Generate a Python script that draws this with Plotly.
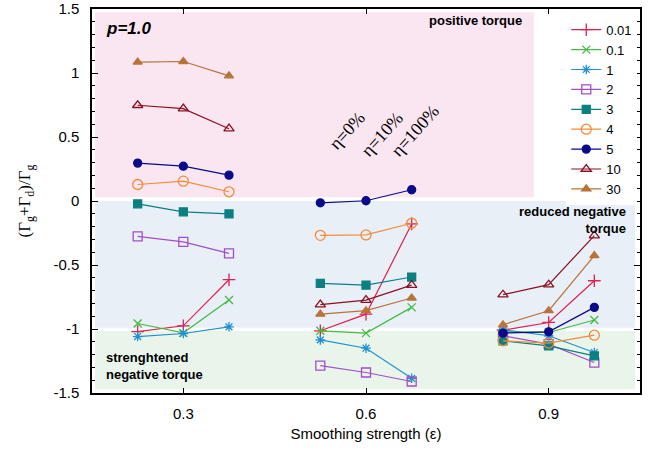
import plotly.graph_objects as go

# eta offsets within each epsilon group: eta=0%, 10%, 100%
eps_groups = [0.3, 0.6, 0.9]
eta_offsets = [-0.075, 0.0, 0.075]

series_names = ["0.01", "0.1", "1", "2", "3", "4", "5", "10", "30"]

# values per series: [group 0.3 (3 pts), group 0.6 (3 pts), group 0.9 (3 pts)]
v_001 = [[-1.02, -0.975, -0.615], [-1.014, -0.884, -0.179], [-1.009, -0.949, -0.623]]
v_01 = [[-0.957, -1.03, -0.774], [-1.014, -1.032, -0.831], [-1.022, -1.027, -0.930]]
v_1 = [[-1.059, -1.035, -0.983], [-1.085, -1.15, -1.385], [-1.006, -1.053, -1.184]]
v_2 = [[-0.276, -0.32, -0.409], [-1.286, -1.34, -1.41], [-1.053, -1.118, -1.262]]
v_3 = [[-0.022, -0.085, -0.100], [-0.644, -0.657, -0.594], [-1.092, -1.132, -1.21]]
v_4 = [[0.129, 0.155, 0.072], [-0.268, -0.265, -0.174], [-1.092, -1.11, -1.048]]
v_5 = [[0.296, 0.272, 0.202], [-0.014, 0.002, 0.088], [-1.032, -1.022, -0.831]]
v_10 = [[0.748, 0.722, 0.565], [-0.81, -0.774, -0.657], [-0.732, -0.654, -0.27]]
v_30 = [[1.085, 1.09, 0.978], [-0.884, -0.857, -0.758], [-0.967, -0.857, -0.427]]

all_values = [v_001, v_01, v_1, v_2, v_3, v_4, v_5, v_10, v_30]

colors = ["#dc2050", "#44bb44", "#2090d0", "#a24ec8", "#0a8080",
          "#f28c3c", "#0a0a8a", "#8b1020", "#b8733a"]
symbols = ["cross-thin", "x-thin", "asterisk", "square-open", "square",
           "circle-open", "circle", "triangle-up-open", "triangle-up"]
sizes = [9, 8, 8, 9, 8, 10, 8, 9, 8]

eta_labels = ["η=0%", "η=10%", "η=100%"]

fig = go.Figure()

# background regions
fig.add_shape(type="rect", xref="x", yref="y", x0=0.155, x1=0.876, y0=0.03, y1=1.475,
              fillcolor="#fae6f0", line=dict(width=0), layer="below")
fig.add_shape(type="rect", xref="x", yref="y", x0=0.155, x1=1.042, y0=-0.99, y1=0.0,
              fillcolor="#e8eff7", line=dict(width=0), layer="below")
fig.add_shape(type="rect", xref="x", yref="y", x0=0.155, x1=1.042, y0=-1.47, y1=-1.015,
              fillcolor="#e9f5ea", line=dict(width=0), layer="below")

for name, vals, col, sym, sz in zip(series_names, all_values, colors, symbols, sizes):
    for gi, (eps, gvals) in enumerate(zip(eps_groups, vals)):
        xs = [eps + o for o in eta_offsets]
        fig.add_trace(go.Scatter(
            x=xs, y=gvals, mode="lines+markers", name=name,
            legendgroup=name, showlegend=(gi == 0),
            line=dict(color=col, width=1.2),
            marker=dict(symbol=sym, size=sz, color=col,
                        line=dict(color=col, width=1.3)),
        ))

# annotations
fig.add_annotation(x=0.1698, y=1.351, xref="x", yref="y", text="<b><i>p=1.0</i></b>",
                   showarrow=False, xanchor="left", yanchor="middle",
                   font=dict(family="Liberation Sans", size=17, color="black"))
fig.add_annotation(x=0.86, y=1.413, xref="x", yref="y", text="<b>positive torque</b>",
                   showarrow=False, xanchor="right", yanchor="middle",
                   font=dict(family="Liberation Sans", size=13, color="black"))
fig.add_annotation(x=1.030, y=-0.145, xref="x", yref="y",
                   text="<b>reduced negative</b><br><b>torque</b>",
                   showarrow=False, xanchor="right", yanchor="middle", align="right",
                   font=dict(family="Liberation Sans", size=13, color="black"))
fig.add_annotation(x=0.1698, y=-1.286, xref="x", yref="y",
                   text="<b>strenghtened</b><br><b>negative torque</b>",
                   showarrow=False, xanchor="left", yanchor="middle", align="left",
                   font=dict(family="Liberation Sans", size=13, color="black"))
eta_pos = [(0.568, 0.55), (0.627, 0.52), (0.68, 0.55)]
for lab, (ex, ey) in zip(eta_labels, eta_pos):
    fig.add_annotation(x=ex, y=ey, xref="x", yref="y", text=lab, showarrow=False,
                       textangle=-48,
                       font=dict(family="Liberation Serif", size=18, color="black"))

axis_common = dict(showline=True, linecolor="black", linewidth=1.5, mirror="allticks",
                   ticks="inside", tickcolor="black", showgrid=False, zeroline=False,
                   automargin=False, ticklabeloverflow="allow",
                   tickfont=dict(family="Liberation Sans", size=15, color="black"))

fig.update_xaxes(range=[0.15, 1.05], tickvals=eps_groups, ticktext=["0.3", "0.6", "0.9"],
                 ticklen=5, ticklabelstandoff=6,
                 title=dict(text="Smoothing strength (ε)", standoff=8,
                            font=dict(family="Liberation Sans", size=15, color="black")),
                 **axis_common)
fig.update_yaxes(range=[-1.5, 1.5], tickvals=[-1.5, -1, -0.5, 0, 0.5, 1, 1.5],
                 ticktext=["-1.5", "-1", "-0.5", "0", "0.5", "1", "1.5"], ticklen=6,
                 ticklabelstandoff=8,
                 minor=dict(dtick=0.1, ticks="inside", ticklen=3, tickcolor="black"),
                 title=dict(text="(Γ<sub>g</sub>+Γ<sub>d</sub>)/Γ<sub>g</sub>", standoff=18,
                            font=dict(family="Liberation Serif", size=17, color="black")),
                 **axis_common)

fig.update_layout(
    width=653, height=450,
    margin=dict(l=92, r=13, t=9, b=57),
    paper_bgcolor="white", plot_bgcolor="white",
    showlegend=True,
    legend=dict(x=0.995, y=0.985, xanchor="right", yanchor="top",
                bgcolor="rgba(255,255,255,1)", borderwidth=0,
                font=dict(family="Liberation Sans", size=13, color="black"),
                itemwidth=30, tracegroupgap=0),
)

# remove the default page margin so the figure sits at the window's top-left corner
fig.write_html("out.html", config={"displayModeBar": False},
               post_script="document.body.style.margin='0';")
